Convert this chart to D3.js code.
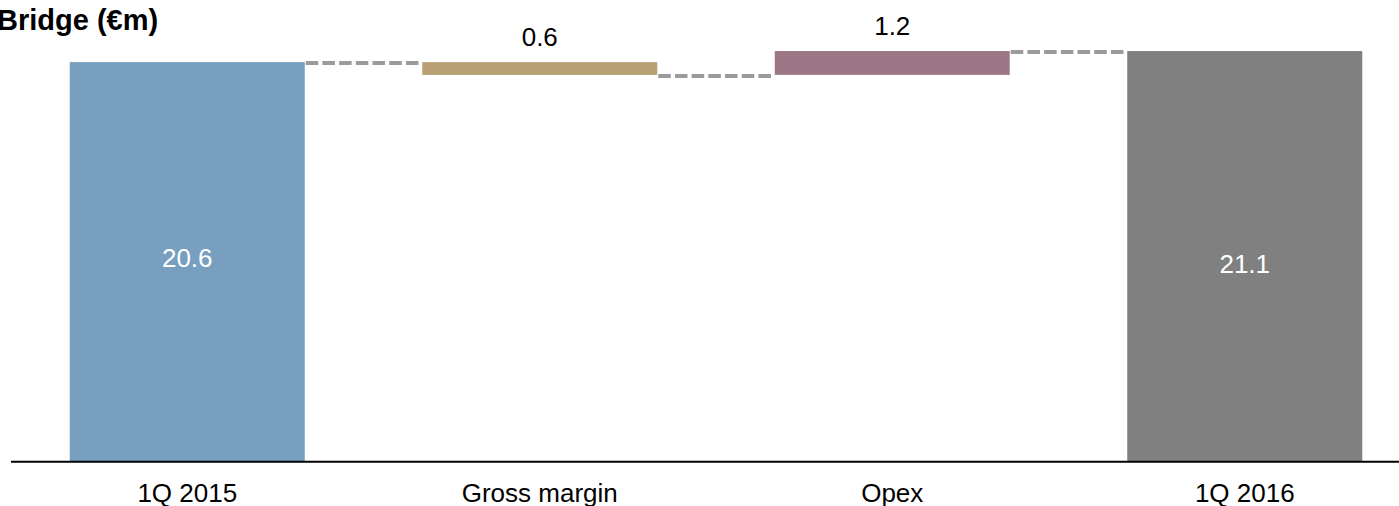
<!DOCTYPE html>
<html>
<head>
<meta charset="utf-8">
<script src="https://cdn.jsdelivr.net/npm/d3@7/dist/d3.min.js"></script>
<style>
  html, body { margin: 0; padding: 0; background: #fff; overflow: hidden; }
  svg { display: block; font-family: "Liberation Sans", Arial, sans-serif; }
</style>
</head>
<body>
<div class="chart"></div>
<script>
// data (bar values estimated from pixel heights)
var categories = ["1Q 2015", "Gross margin", "Opex", "1Q 2016"];
var startValue = 20.6;
var changes = [-0.66, 1.23];
var endValue = 21.17;
var valueLabels = ["20.6", "0.6", "1.2", "21.1"];
var barColors = ["#789fc0", "#b9a072", "#9e7787", "#808080"];

const svgWidth = 1399, svgHeight = 506;

var svg = d3.select(".chart").append("svg")
    .attr("width", svgWidth)
    .attr("height", svgHeight);

// build the waterfall steps
var steps = [];
var running = startValue;
steps.push({ name: categories[0], y0: 0, y1: startValue, type: "total" });
changes.forEach(function (c, i) {
    steps.push({ name: categories[i + 1], y0: running, y1: running + c, type: "delta" });
    running += c;
});
steps.push({ name: categories[3], y0: 0, y1: endValue, type: "total" });
steps.forEach(function (d, i) {
    d.label = valueLabels[i];
    d.color = barColors[i];
});

var x = d3.scaleBand()
    .domain(categories)
    .range([11, 1421])
    .paddingInner(1 / 3)
    .paddingOuter(1 / 6);

var y = d3.scaleLinear()
    .domain([0, 22])
    .range([461, 35]);

// title (left edge is cut off in the original too)
svg.append("text")
    .text("Bridge (€m)")
    .attr("x", -3)
    .attr("y", 30)
    .style("font-size", "29px")
    .style("font-weight", "bold")
    .style("fill", "#000");

// dashed connectors between bars, at the level where each bar ends
var connectors = [];
for (var i = 0; i < steps.length - 1; i++) {
    connectors.push({ from: steps[i].name, to: steps[i + 1].name, level: steps[i].y1 });
}
svg.selectAll(".connector")
    .data(connectors)
    .enter().append("line")
    .attr("class", "connector")
    .attr("x1", function (d) { return x(d.from) + x.bandwidth() + 1; })
    .attr("x2", function (d) { return x(d.to) - 1; })
    .attr("y1", function (d) { return y(d.level) + 1; })
    .attr("y2", function (d) { return y(d.level) + 1; })
    .style("stroke", "#9b9b9b")
    .style("stroke-width", 4)
    .style("stroke-dasharray", "12.5,4.2");

// bars
svg.selectAll(".bar")
    .data(steps)
    .enter().append("rect")
    .attr("class", "bar")
    .attr("x", function (d) { return x(d.name); })
    .attr("width", x.bandwidth())
    .attr("y", function (d) { return y(Math.max(d.y0, d.y1)); })
    .attr("height", function (d) { return Math.abs(y(d.y0) - y(d.y1)); })
    .attr("fill", function (d) { return d.color; });

// value labels: totals inside, changes above
var insideDy = { "1Q 2015": 5, "1Q 2016": 17 };
svg.selectAll(".value")
    .data(steps)
    .enter().append("text")
    .attr("class", "value")
    .text(function (d) { return d.label; })
    .attr("x", function (d) { return x(d.name) + x.bandwidth() / 2; })
    .attr("y", function (d) {
        if (d.type == "total") return y(d.y1 / 2) + insideDy[d.name];
        return y(Math.max(d.y0, d.y1)) - 16;
    })
    .style("text-anchor", "middle")
    .style("font-size", "26px")
    .style("fill", function (d) { return d.type == "total" ? "#fff" : "#000"; });

// baseline axis
svg.append("line")
    .attr("x1", 11)
    .attr("x2", svgWidth)
    .attr("y1", y(0) + 0.7)
    .attr("y2", y(0) + 0.7)
    .style("stroke", "#000")
    .style("stroke-width", 2);

// category labels
svg.selectAll(".cat")
    .data(categories)
    .enter().append("text")
    .attr("class", "cat")
    .text(function (d) { return d; })
    .attr("x", function (d) { return x(d) + x.bandwidth() / 2; })
    .attr("y", 502)
    .style("text-anchor", "middle")
    .style("font-size", "26px")
    .style("fill", "#000");
</script>
</body>
</html>
